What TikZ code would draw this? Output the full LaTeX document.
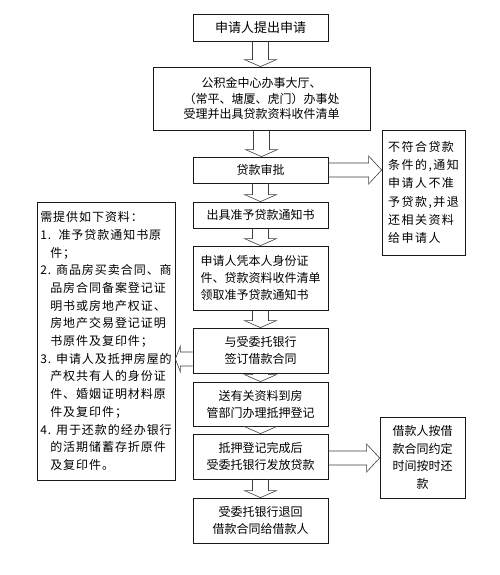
\documentclass[tikz,border=0pt]{standalone}
\usepackage{fontspec}
\setmainfont{Noto Sans CJK SC}
\newfontfamily\docsfont[LetterSpace=8]{Noto Sans CJK SC}
\newfontfamily\rejfont[LetterSpace=12]{Noto Sans CJK SC}
\usetikzlibrary{calc,positioning}

\newcommand{\downarr}[2]{%
  \draw[hollow] let \p1=(#1.south), \p2=(#2.north) in
    (\x1-8pt,\y1) -- (\x1-8pt,\y2+7pt) -- (\x1-16pt,\y2+7pt) -- (\x1,\y2)
    -- (\x1+16pt,\y2+7pt) -- (\x1+8pt,\y2+7pt) -- (\x1+8pt,\y1);}
\newcommand{\rightarr}[2]{%
  \draw[hollow] let \p1=(#1), \p2=(#2) in
    (\x1,\y1+7pt) -- (\x2-13pt,\y1+7pt) -- (\x2-13pt,\y1+14pt) -- (\x2,\y1)
    -- (\x2-13pt,\y1-14pt) -- (\x2-13pt,\y1-7pt) -- (\x1,\y1-7pt);}
\newcommand{\leftarr}[2]{%
  \draw[hollow] let \p1=(#1), \p2=(#2) in
    (\x1,\y1+7pt) -- (\x2+5pt,\y1+7pt) -- (\x2+5pt,\y1+13pt) -- (\x2,\y1)
    -- (\x2+5pt,\y1-13pt) -- (\x2+5pt,\y1-7pt) -- (\x1,\y1-7pt);}
\newcommand{\ind}{\hspace*{10pt}}

\begin{document}
\begin{tikzpicture}[x=1pt,y=-1pt,
    box/.style={draw=black!90, line width=0.8pt, inner sep=0pt, align=center,
      font=\fontsize{12}{17}\selectfont, minimum width=135pt},
    hollow/.style={draw=black!75, line width=0.6pt}]
  \path[fill=white] (0,0) rectangle (500,575);

  \node[box, minimum height=27pt, font=\fontsize{13}{17}\selectfont] (apply) at (260.5,27.5) {申请人提出申请};
  \node[box, minimum width=217pt, minimum height=63pt, font=\fontsize{12}{15.5}\selectfont] (accept) at (261.5,98.5)
    {公积金中心办事大厅、\\（常平、塘厦、虎门）办事处\\受理并出具贷款资料收件清单};
  \node[box, minimum height=26pt] (approve) at (260.5,170) {贷款审批};
  \node[box, minimum height=26pt] (notice) at (260.5,215) {出具准予贷款通知书};
  \node[box, minimum height=64pt, align=left] (collect) at (260.5,278)
    {申请人凭本人身份证\\件、贷款资料收件清单\\领取准予贷款通知书};
  \node[box, minimum height=45pt] (contract) at (260.5,350.5) {与受委托银行\\签订借款合同};
  \node[box, minimum height=44pt] (mortgage) at (260.5,404) {送有关资料到房\\管部门办理抵押登记};
  \node[box, minimum height=45pt] (loan) at (260.5,456.5) {抵押登记完成后\\受委托银行发放贷款};
  \node[box, minimum height=45pt] (return) at (260.5,520.5) {受委托银行退回\\借款合同给借款人};

  \node[box, minimum width=83pt, minimum height=125pt, align=left,
    font=\rejfont\fontsize{12}{18.3}\selectfont] (reject) at (423.5,192.5)
    {不符合贷款\\条件的,通知\\申请人不准\\予贷款,并退\\还相关资料\\给申请人};
  \node[box, minimum width=85pt, minimum height=81pt,
    font=\fontsize{12}{17.7}\selectfont] (repay) at (422.5,457.5)
    {借款人按借\\款合同约定\\时间按时还\\款};
  \node[box, minimum width=138pt, minimum height=278pt, align=left,
    font=\docsfont\fontsize{12}{17.7}\selectfont] (docs) at (106,341)
    {需提供如下资料：\\1.\ \ 准予贷款通知书原\\\ind 件；\\2. 商品房买卖合同、商\\\ind 品房合同备案登记证\\
     \ind 明书或房地产权证、\\\ind 房地产交易登记证明\\\ind 书原件及复印件；\\3. 申请人及抵押房屋的\\
     \ind 产权共有人的身份证\\\ind 件、婚姻证明材料原\\\ind 件及复印件；\\4. 用于还款的经办银行\\
     \ind 的活期储蓄存折原件\\\ind 及复印件。};

  \coordinate (contractw) at ($(contract.west)+(0,8.5)$);
  \coordinate (loane) at ($(loan.east)+(0,1.5)$);

  \downarr{apply}{accept}
  \downarr{accept}{approve}
  \downarr{approve}{notice}
  \downarr{notice}{collect}
  \downarr{collect}{contract}
  \downarr{contract}{mortgage}
  \downarr{mortgage}{loan}
  \downarr{loan}{return}
  \rightarr{approve.east}{reject.west}
  \rightarr{loane}{repay.west}
  \leftarr{contractw}{docs.east}
\end{tikzpicture}
\end{document}
